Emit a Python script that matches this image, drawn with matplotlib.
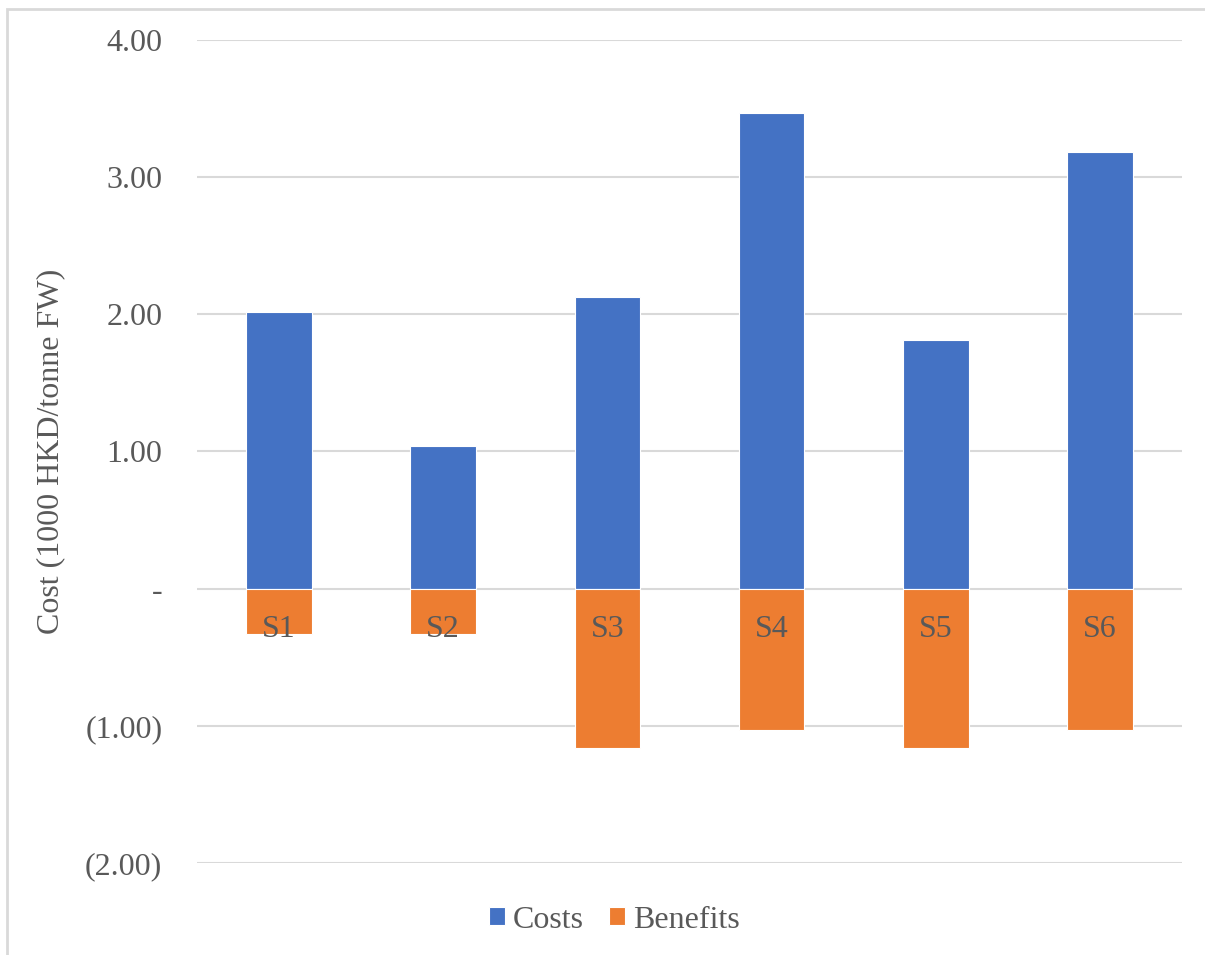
import matplotlib.pyplot as plt
from matplotlib.patches import Rectangle
import numpy as np

plt.rcParams['font.family'] = ['Liberation Serif', 'DejaVu Serif']

scenarios = ['S1', 'S2', 'S3', 'S4', 'S5', 'S6']
costs = [2.02, 1.04, 2.125, 3.465, 1.815, 3.185]
benefits = [-0.33, -0.33, -1.165, -1.03, -1.165, -1.03]
yticks = [-2, -1, 0, 1, 2, 3, 4]

blue = '#4472C4'
orange = '#ED7D31'
grey = '#595959'


def fmt(v):
    if v == 0:
        return '-'
    if v < 0:
        return '(%.2f)' % abs(v)
    return '%.2f' % v


fig = plt.figure(figsize=(12.05, 9.55), dpi=100)
ax = fig.add_axes([197/1205, 1-863/955, (1182-197)/1205, (863-40)/955])

x = np.arange(len(scenarios))
ax.bar(x, costs, width=0.4, color=blue, edgecolor='white', linewidth=0.8, label='Costs', zorder=3)
ax.bar(x, benefits, width=0.4, color=orange, edgecolor='white', linewidth=0.8, label='Benefits', zorder=3)

ax.set_xlim(-0.5, len(scenarios) - 0.5)
ax.set_ylim(-2, 4)
ax.set_yticks(yticks)
ax.set_yticklabels([fmt(v) for v in yticks])
ax.tick_params(axis='y', length=0, pad=25, labelsize=23, labelcolor=grey)
ax.set_xticks([])
ax.grid(axis='y', color='#D9D9D9', linewidth=1.5, zorder=0)
for s in ax.spines.values():
    s.set_visible(False)

for i, name in enumerate(scenarios):
    ax.annotate(name, (i, 0), xytext=(0, -19), textcoords='offset points',
                ha='center', va='top', fontsize=23, color=grey, zorder=4)

ax.set_ylabel('Cost (1000 HKD/tonne FW)', fontsize=23, color=grey, labelpad=14)

leg = fig.legend(loc='center', bbox_to_anchor=(0.51, 1-920/955), ncol=2, frameon=False,
                 fontsize=23, handlelength=0.5, handleheight=0.5, handletextpad=0.25,
                 columnspacing=0.8, labelcolor=grey)

fig.patches.append(Rectangle((7/1205, -0.1), 1.2, 1-9/955 + 0.1, transform=fig.transFigure,
                             fill=False, edgecolor='#D9D9D9', linewidth=2))

fig.savefig('out.png', dpi=100)
